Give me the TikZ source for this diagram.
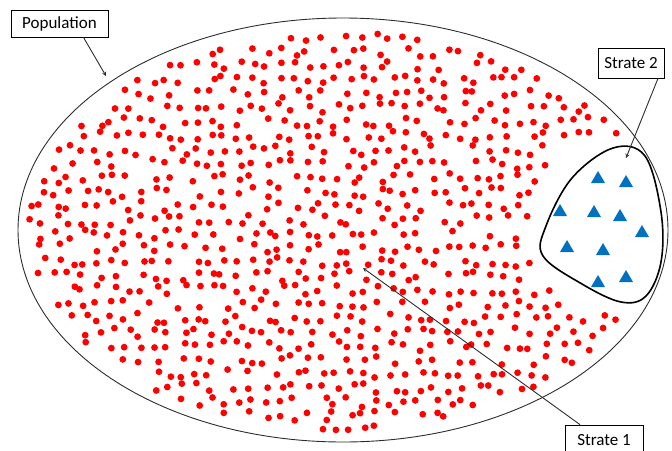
\documentclass[tikz,border=0pt]{standalone}
\usepackage{fontspec}
\setmainfont{Carlito}
\usetikzlibrary{arrows,positioning,calc}
\definecolor{dotred}{RGB}{255,0,0}
\definecolor{triblue}{RGB}{0,112,192}
\definecolor{lineblack}{RGB}{45,45,45}

\begin{document}
\begin{tikzpicture}[
        x=1pt, y=-1pt,
        labelbox/.style={rectangle, draw=black, line width=0.8pt, fill=white, inner sep=0pt, align=center, font=\fontsize{17}{20}\selectfont},
        arrow/.style={->, >=stealth, line width=0.9pt, draw=lineblack},
        dot/.style={fill=dotred},
        tri/.style={fill=triblue}
    ]
        \useasboundingbox (0,0) rectangle (672,450);

        % Population
        \draw[lineblack, line width=0.9pt] (343,230) ellipse [x radius=325, y radius=212];

        % Red dots (jittered grid)
        \pgfmathsetseed{4217}
        \foreach \gx in {28,42,...,662}{
            \foreach \gy in {24,38,...,440}{
                \pgfmathsetmacro\px{\gx+rand*5}
                \pgfmathsetmacro\py{\gy+rand*5}
                \pgfmathsetmacro\keep{((((\px-343)/314)^2+((\py-230)/200)^2)<1)*((((\px-602)/74)^2+((\py-225)/90)^2)>1)*(rnd>0.1)}
                \ifdim\keep pt>0.5pt \fill[dot] (\px,\py) circle[radius=3.4pt]; \fi
            }
        }

        % Strate 2 region
        \draw[black, line width=1.6pt] plot[smooth cycle, tension=0.6] coordinates {
            (613,148) (645,156) (661,212) (661,262) (646,296) (621,302) (582,284) (543,256) (546,226) (572,178)};
        \foreach \tx/\ty in {598/178, 626/182, 560/211, 594/212, 620/216, 642/232, 567/247, 603/250, 598/282, 626/277}
            \fill[tri] (\tx,\ty) +(-7,5) -- +(7,5) -- +(0,-7) -- cycle;

        % Labels
        \node[labelbox, minimum width=97pt, minimum height=27pt] (pop) at (59.5,23.5) {Population};
        \node[labelbox, minimum width=66pt, minimum height=30pt] (str2) at (631,63) {Strate 2};
        \node[labelbox, minimum width=78pt, minimum height=30pt] (str1) at (604,440) {Strate 1};

        \coordinate (popTip) at (106,76);
        \coordinate (str2Tip) at (626,158);
        \coordinate (str1Tip) at (363,268);

        % Arrows
        \draw[arrow] ([xshift=24pt]pop.south) -- (popTip);
        \draw[arrow] ([xshift=27pt]str2.south) -- (str2Tip);
        \draw[arrow] ([xshift=-24pt]str1.north) -- (str1Tip);

    \end{tikzpicture}
\end{document}
